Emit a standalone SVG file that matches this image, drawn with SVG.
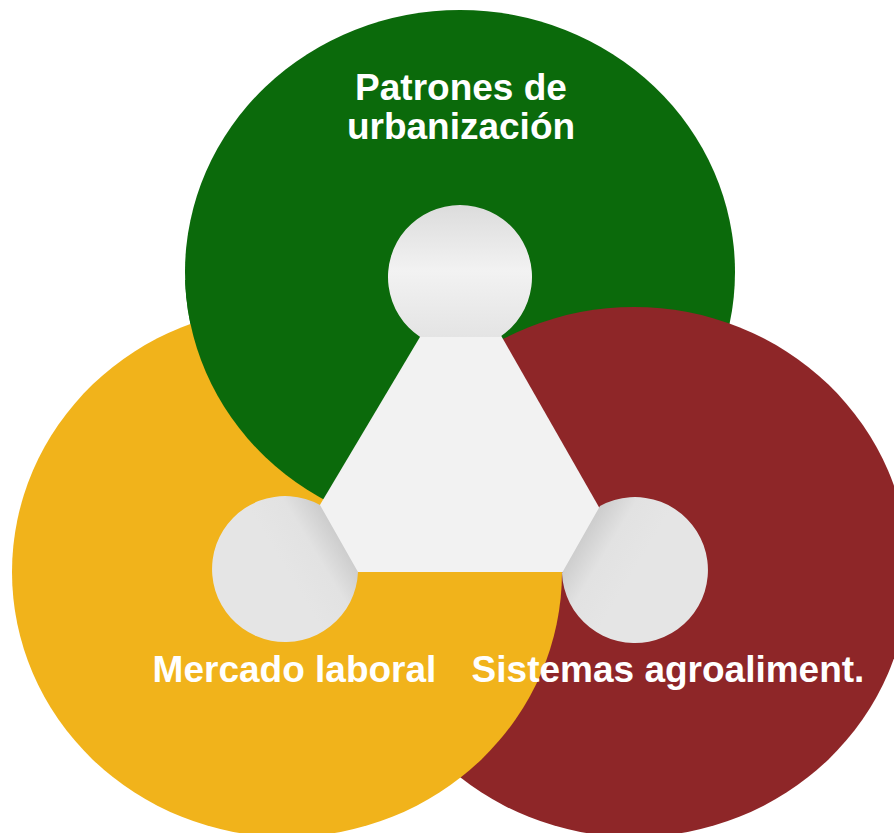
<svg xmlns="http://www.w3.org/2000/svg" width="894" height="833" viewBox="0 0 894 833">
<defs>
<style>
.lbl{font-family:"Liberation Sans",Arial,sans-serif;font-weight:bold;font-size:37px;fill:#ffffff;text-anchor:middle}
</style>
<clipPath id="gclip"><rect x="0" y="280" width="440" height="553"/></clipPath>
<linearGradient id="gTop" gradientUnits="userSpaceOnUse" x1="460" y1="205" x2="460" y2="337">
<stop offset="0" stop-color="#dcdcdc"/><stop offset="0.5" stop-color="#f2f2f2"/><stop offset="1" stop-color="#e4e4e4"/>
</linearGradient>
<linearGradient id="gLeft" gradientUnits="userSpaceOnUse" x1="286" y1="570" x2="339" y2="538">
<stop offset="0" stop-color="#e5e5e5"/><stop offset="0.55" stop-color="#e2e2e2"/><stop offset="1" stop-color="#cdcdcd"/>
</linearGradient>
<linearGradient id="gRight" gradientUnits="userSpaceOnUse" x1="634" y1="571" x2="581" y2="539">
<stop offset="0" stop-color="#e5e5e5"/><stop offset="0.55" stop-color="#e2e2e2"/><stop offset="1" stop-color="#cdcdcd"/>
</linearGradient>
</defs>
<rect width="894" height="833" fill="#ffffff"/>
<g id="urbanizacion-shape"><ellipse cx="460" cy="272" rx="275" ry="262" fill="#0b6a0b"/></g>
<g id="agro-shape"><ellipse cx="634" cy="572" rx="275" ry="265" fill="#8e2628"/></g>
<g id="mercado-shape"><ellipse cx="287" cy="572" rx="275" ry="265" fill="#f1b31b"/></g>
<g id="urbanizacion-overlap" clip-path="url(#gclip)"><ellipse cx="460" cy="272" rx="275" ry="262" fill="#0b6a0b"/></g>
<g id="center">
<polygon points="461.8,266.7 280,572 636,572" fill="#f2f2f2"/>
</g>
<g id="connectors"></g>
<g id="node-top"><path d="M420.2 337 A72 72 0 1 1 499.8 337 Z" fill="url(#gTop)"/></g>
<g id="node-left"><path d="M358 572 A73 73 0 1 1 320 505 Z" fill="url(#gLeft)"/></g>
<g id="node-right"><path d="M600 506 A73 73 0 1 1 562 573 Z" fill="url(#gRight)"/></g>
<g id="labels">
<text class="lbl" x="461" y="100">Patrones de</text>
<text class="lbl" x="461" y="139">urbanización</text>
<text class="lbl" x="294.5" y="682">Mercado laboral</text>
<text class="lbl" x="668" y="682">Sistemas agroaliment.</text>
</g>
</svg>
